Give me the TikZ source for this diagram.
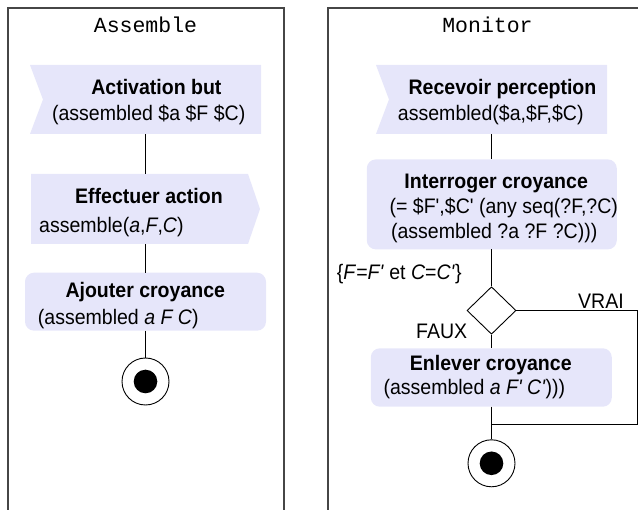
\documentclass[tikz,border=0pt]{standalone}
\usepackage{fontspec}
\setmainfont{Liberation Sans}[FakeStretch=0.93,Ligatures=TeXOff]
\setmonofont{Liberation Mono}
\usetikzlibrary{shapes.geometric}
\definecolor{lav}{RGB}{230,230,250}
\definecolor{frm}{RGB}{70,70,70}
\newcommand\fsz{\fontsize{21}{25}\selectfont}
\begin{document}
\begin{tikzpicture}[x=1pt,y=-1pt,
  lbl/.style={inner sep=0pt, font=\fsz, anchor=base},
  lblL/.style={lbl, anchor=base west},
  hd/.style={lbl, font=\fsz\bfseries},
  ttl/.style={inner sep=0pt, anchor=base, font=\fontsize{21.5}{25}\selectfont\ttfamily},
  frame/.style={draw=frm, line width=1.2pt},
  conn/.style={draw=black, line width=0.9pt},
  recvbox/.style={inner sep=0pt, outer sep=0pt, fill=white,
    path picture={\fill[lav] (path picture bounding box.north west) -- (path picture bounding box.north east)
      -- (path picture bounding box.south east) -- (path picture bounding box.south west)
      -- ([xshift=13pt]path picture bounding box.west) -- cycle;}},
  sendbox/.style={inner sep=0pt, outer sep=0pt, fill=white,
    path picture={\fill[lav] (path picture bounding box.north west) -- ([xshift=-12pt]path picture bounding box.north east)
      -- (path picture bounding box.east) -- ([xshift=-12pt]path picture bounding box.south east)
      -- (path picture bounding box.south west) -- cycle;}},
  rbox/.style={inner sep=0pt, outer sep=0pt, fill=lav, rounded corners=9pt},
  decision/.style={diamond, draw=black, line width=0.9pt, fill=white, inner sep=0pt, minimum width=49pt, minimum height=47.5pt},
  finalnode/.style={circle, draw=black, line width=0.9pt, fill=white, inner sep=0pt, minimum size=47pt,
    path picture={\fill[black] (path picture bounding box.center) circle (11.8pt);}}
]
\useasboundingbox (0,0) rectangle (638,510);

% swimlane frames
\draw[frame] (8,512) -- (8,8) -- (284,8) -- (284,512);
\draw[frame] (328,512) -- (328,8) -- (640,8);

% left lane boxes
\node[recvbox, minimum width=231pt, minimum height=69pt] (act) at (145.5,99.5) {};
\node[sendbox, minimum width=229pt, minimum height=70pt] (eff) at (145.5,209) {};
\node[rbox, minimum width=241pt, minimum height=58pt] (aj) at (145.5,301.7) {};
\node[finalnode] (fin1) at (145.5,381.5) {};

% right lane boxes
\node[recvbox, minimum width=231pt, minimum height=69pt] (rec) at (491.5,99.5) {};
\node[rbox, minimum width=250pt, minimum height=90pt] (int) at (491.8,204.4) {};
\node[decision] (dia) at (491.5,310.5) {};
\node[rbox, minimum width=241pt, minimum height=58.4pt] (enl) at (491.3,377.5) {};
\node[finalnode] (fin2) at (491.5,463.3) {};
\coordinate (loopcorner) at (637,424);
\coordinate (merge) at (491.5,424);

% connectors
\draw[conn] (act.south) -- (eff.north);
\draw[conn] (eff.south) -- (aj.north);
\draw[conn] (aj.south) -- (fin1.north);
\draw[conn] (rec.south) -- (rec.south |- int.north);
\draw[conn] (int.south -| dia.north) -- (dia.north);
\draw[conn] (dia.south) -- (dia.south |- enl.north);
\draw[conn] (enl.south -| fin2.north) -- (fin2.north);
\draw[conn] (dia.east) -| (loopcorner) -- (merge);

% texts
\node[ttl] (t1) at (145.5,33) {Assemble};
\node[hd] (act1) at (156.4,95) {Activation but};
\node[lbl] (act2) at (148.7,121) {(assembled \$a \$F \$C)};
\node[hd] (eff1) at (149,204) {Effectuer action};
\node[lblL] (eff2) at (39,233) {assemble(\textit{a},\textit{F},\textit{C})};
\node[hd] (aj1) at (145.3,298) {Ajouter croyance};
\node[lblL] (aj2) at (37.7,324.5) {(assembled \textit{a F C})};

\node[ttl] (t2) at (487.5,33) {Monitor};
\node[hd] (rec1) at (502.5,95) {Recevoir perception};
\node[lbl] (rec2) at (490.8,121) {assembled(\$a,\$F,\$C)};
\node[hd] (int1) at (496.2,188.5) {Interroger croyance};
\node[lbl] (int2) at (503.8,213.3) {(= \$F',\$C' (any seq(?F,?C)};
\node[lbl] (int3) at (494.2,238.3) {(assembled ?a ?F ?C)))};
\node[lblL] (cond) at (336.7,280) {\{\textit{F}=\textit{F'} et \textit{C}=\textit{C'}\}};
\node[lblL] (vrai) at (578,309) {VRAI};
\node[lblL] (faux) at (416,339) {FAUX};
\node[hd] (enl1) at (490.8,370.7) {Enlever croyance};
\node[lblL] (enl2) at (383.3,395) {(assembled \textit{a F' C'})))};
\end{tikzpicture}
\end{document}
